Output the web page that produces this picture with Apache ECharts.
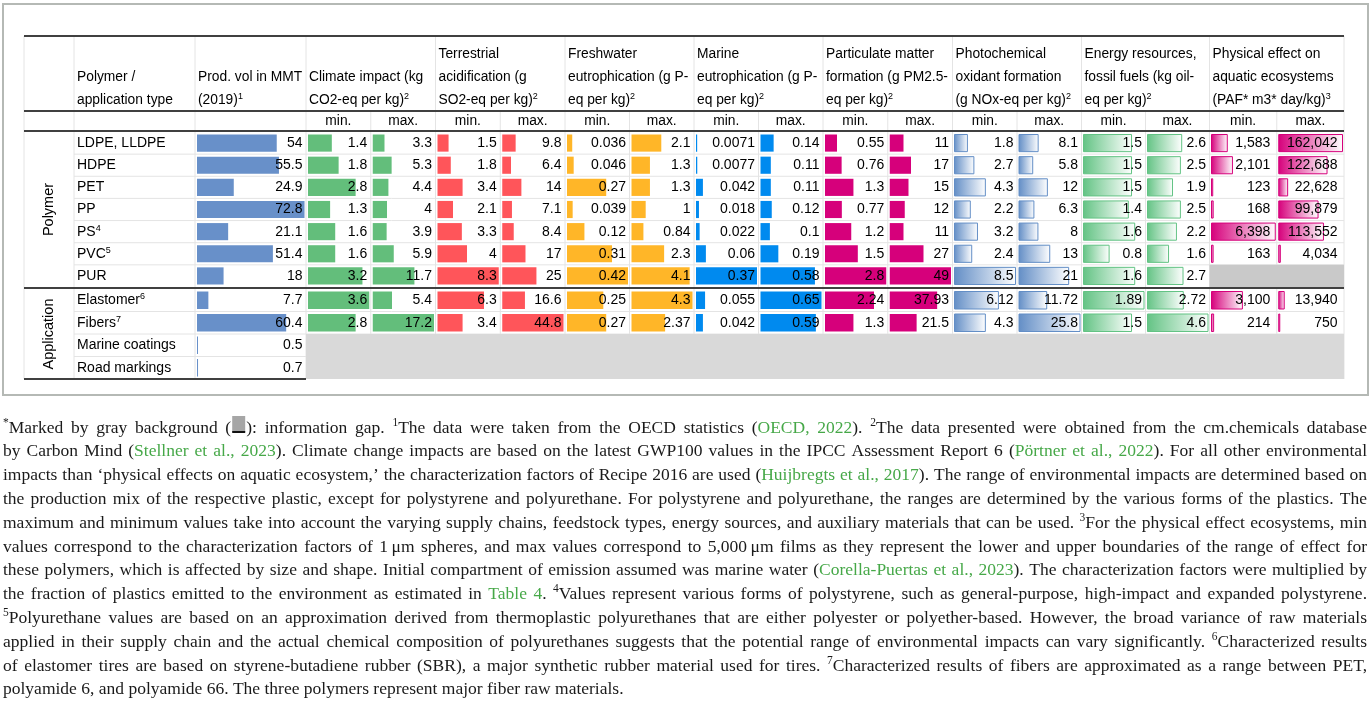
<!DOCTYPE html>
<html><head><meta charset="utf-8">
<script src="https://cdn.jsdelivr.net/npm/echarts@6/dist/echarts.min.js"></script>
<style>html,body{margin:0;padding:0;background:#fff;}#c{width:1372px;height:709px;}</style>
</head><body><div id="c"></div>
<script>
// ---------------- DATA ----------------
const rowNames = ['LDPE, LLDPE','HDPE','PET','PP','PS','PVC','PUR','Elastomer','Fibers','Marine coatings','Road markings'];
const rowSup = ['','','','','4','5','','6','7','',''];
const groupNames = ['Polymer','Application'];
const groupSizes = [7, 4];
const headerText = [
  ['Polymer /','application type'],
  ['Prod. vol in MMT','(2019){s|1}'],
  ['Climate impact (kg','CO2-eq per kg){s|2}'],
  ['Terrestrial','acidification (g','SO2-eq per kg){s|2}'],
  ['Freshwater','eutrophication (g P-','eq per kg){s|2}'],
  ['Marine','eutrophication (g P-','eq per kg){s|2}'],
  ['Particulate matter','formation (g PM2.5-','eq per kg){s|2}'],
  ['Photochemical','oxidant formation','(g NOx-eq per kg){s|2}'],
  ['Energy resources,','fossil fuels (kg oil-','eq per kg){s|2}'],
  ['Physical effect on','aquatic ecosystems','(PAF* m3* day/kg){s|3}']
];
const subLabels = ['min.','max.'];
const prodVol    = [54,55.5,24.9,72.8,21.1,51.4,18,7.7,60.4,0.5,0.7];
const climateMin = [1.4,1.8,2.8,1.3,1.6,1.6,3.2,3.6,2.8,null,null];
const climateMax = [3.3,5.3,4.4,4,3.9,5.9,11.7,5.4,17.2,null,null];
const terrMin    = [1.5,1.8,3.4,2.1,3.3,4,8.3,6.3,3.4,null,null];
const terrMax    = [9.8,6.4,14,7.1,8.4,17,25,16.6,44.8,null,null];
const freshMin   = [0.036,0.046,0.27,0.039,0.12,0.31,0.42,0.25,0.27,null,null];
const freshMax   = [2.1,1.3,1.3,1,0.84,2.3,4.1,4.3,2.37,null,null];
const marineMin  = [0.0071,0.0077,0.042,0.018,0.022,0.06,0.37,0.055,0.042,null,null];
const marineMax  = [0.14,0.11,0.11,0.12,0.1,0.19,0.58,0.65,0.59,null,null];
const pmMin      = [0.55,0.76,1.3,0.77,1.2,1.5,2.8,2.24,1.3,null,null];
const pmMax      = [11,17,15,12,11,27,49,37.93,21.5,null,null];
const photoMin   = [1.8,2.7,4.3,2.2,3.2,2.4,8.5,6.12,4.3,null,null];
const photoMax   = [8.1,5.8,12,6.3,8,13,21,11.72,25.8,null,null];
const energyMin  = [1.5,1.5,1.5,1.4,1.6,0.8,1.6,1.89,1.5,null,null];
const energyMax  = [2.6,2.5,1.9,2.5,2.2,1.6,2.7,2.72,4.6,null,null];
const physMin    = [1583,2101,123,168,6398,163,null,3100,214,null,null];
const physMax    = [162042,122688,22628,99879,113552,4034,null,13940,750,null,null];

const footnoteLines = [
 "^*Marked by gray background (■): information gap. ^1The data were taken from the OECD statistics (§OECD, 2022§). ^2The data presented were obtained from the cm.chemicals database",
 "by Carbon Mind (§Stellner et al., 2023§). Climate change impacts are based on the latest GWP100 values in the IPCC Assessment Report 6 (§Pörtner et al., 2022§). For all other environmental",
 "impacts than ‘physical effects on aquatic ecosystem,’ the characterization factors of Recipe 2016 are used (§Huijbregts et al., 2017§). The range of environmental impacts are determined based on",
 "the production mix of the respective plastic, except for polystyrene and polyurethane. For polystyrene and polyurethane, the ranges are determined by the various forms of the plastics. The",
 "maximum and minimum values take into account the varying supply chains, feedstock types, energy sources, and auxiliary materials that can be used. ^3For the physical effect ecosystems, min",
 "values correspond to the characterization factors of 1\u2009μm spheres, and max values correspond to 5,000\u2009μm films as they represent the lower and upper boundaries of the range of effect for",
 "these polymers, which is affected by size and shape. Initial compartment of emission assumed was marine water (§Corella-Puertas et al., 2023§). The characterization factors were multiplied by",
 "the fraction of plastics emitted to the environment as estimated in §Table 4§. ^4Values represent various forms of polystyrene, such as general-purpose, high-impact and expanded polystyrene.",
 "^5Polyurethane values are based on an approximation derived from thermoplastic polyurethanes that are either polyester or polyether-based. However, the broad variance of raw materials",
 "applied in their supply chain and the actual chemical composition of polyurethanes suggests that the potential range of environmental impacts can vary significantly. ^6Characterized results",
 "of elastomer tires are based on styrene-butadiene rubber (SBR), a major synthetic rubber material used for tires. ^7Characterized results of fibers are approximated as a range between PET,",
 "polyamide 6, and polyamide 66. The three polymers represent major fiber raw materials."
];

// ---------------- STYLE / LAYOUT ----------------
const SANS = '"Liberation Sans", Arial, sans-serif';
const SERIF = '"Liberation Serif", "Times New Roman", serif';
const columnsData = [prodVol, climateMin, climateMax, terrMin, terrMax, freshMin, freshMax,
  marineMin, marineMax, pmMin, pmMax, photoMin, photoMax, energyMin, energyMax, physMin, physMax];
const groupStyle = [
  {color:'#6890C9', grad:false},
  {color:'#63BE7B', grad:false},
  {color:'#FF555A', grad:false},
  {color:'#FFB628', grad:false},
  {color:'#008AEF', grad:false},
  {color:'#D6007B', grad:false},
  {color:'#638EC6', grad:true},
  {color:'#63C384', grad:true},
  {color:'#D6007B', grad:true}
];
const X_GROUP = 24, X_NAME = 74, X_PROD = 195, X_RIGHT = 1344;
const mainX = [306, 435.5, 565, 694, 823, 952.5, 1081.5, 1209.5, 1344];
const Y_TOP = 36, Y_HEAD = 111, Y_SUB = 131, Y_SEP = 288, Y_BOT = 379;
const sections = [{start:0, count:7, top:132, bottom:287}, {start:7, count:4, top:289, bottom:379}];

// column boxes
const cols = [];
cols.push({x0:X_PROD, x1:mainX[0], style:groupStyle[0], pad:3.5});
for (let k = 0; k < 8; k++) {
  const a = mainX[k], b = mainX[k+1], m = (a+b)/2;
  const pad = k === 7 ? 6.5 : 3.5;
  cols.push({x0:a, x1:m, style:groupStyle[k+1], pad});
  cols.push({x0:m, x1:b, style:groupStyle[k+1], pad});
}
cols.forEach((c, i) => {
  c.data = columnsData[i];
  c.max = Math.max(...c.data.filter(v => v != null));
});

const supMap = {};
rowNames.forEach((n, i) => { if (rowSup[i]) supMap[n] = rowSup[i]; });

const fmt = v => v.toLocaleString('en-US', {maximumFractionDigits: 4});

const mctx = document.createElement('canvas').getContext('2d');
function textW(t, size, fam) { mctx.font = size + 'px ' + fam; return mctx.measureText(t).width; }

// ---------------- BUILD OPTION ----------------
const grids = [], xAxes = [], yAxes = [], series = [];
cols.forEach((c, ci) => {
  sections.forEach((s, si) => {
    const g = grids.length;
    grids.push({left: c.x0 + 2, top: s.top, width: (c.x1 - c.x0) - 3.5, height: s.bottom - s.top, containLabel:false});
    xAxes.push({type:'value', gridIndex:g, min:0, max:c.max, show:false});
    yAxes.push({
      type:'category', gridIndex:g, inverse:true,
      data: rowNames.slice(s.start, s.start + s.count),
      axisLine:{show:false}, axisTick:{show:false}, splitLine:{show:false},
      axisLabel: ci === 0 ? {
        show:true, interval:0, align:'left', margin: (c.x0 + 2) - (X_NAME + 3),
        fontSize:14, fontFamily:SANS, color:'#000', lineHeight:16,
        formatter: v => v + (supMap[v] ? '{s|' + supMap[v] + '}' : ''),
        rich:{s:{fontSize:9, fontFamily:SANS, color:'#000', lineHeight:9, verticalAlign:'top'}}
      } : {show:false}
    });
    const data = [];
    for (let r = 0; r < s.count; r++) {
      const v = c.data[s.start + r];
      if (v != null) data.push([v, r]);
    }
    const st = c.style, colMax = c.max, pad = c.pad;
    series.push({
      type:'custom', xAxisIndex:g, yAxisIndex:g, z:3, silent:true,
      encode:{x:0, y:1},
      data,
      renderItem: function (params, api) {
        const v = api.value(0), r = api.value(1);
        const p0 = api.coord([0, r]);
        const p1 = api.coord([v, r]);
        const pm = api.coord([colMax, r]);
        const bh = api.size([0, 1])[1];
        const w = Math.max(p1[0] - p0[0], 1);
        const fill = st.grad
          ? new echarts.graphic.LinearGradient(0, 0, 1, 0, [{offset:0, color:st.color}, {offset:1, color:'#ffffff'}])
          : st.color;
        return {type:'group', children:[
          {type:'rect', shape:{x:p0[0], y:p0[1] - bh/2 + 2.5, width:w, height:bh - 5},
           style:{fill, stroke: st.grad ? st.color : null, lineWidth: st.grad ? 1 : 0}},
          {type:'text', style:{text: fmt(v), x: pm[0] + 1.5 - pad, y: p0[1],
            align:'right', verticalAlign:'middle', textAlign:'right', textVerticalAlign:'middle',
            fontSize:14, fontFamily:SANS, fill:'#000'}}
        ]};
      }
    });
  });
});

// ---------------- GRAPHIC (table structure + texts) ----------------
const G = [];
const line = (x1, y1, x2, y2, color, w, z) => G.push({type:'line', shape:{x1, y1, x2, y2}, style:{stroke:color, lineWidth:w}, z, silent:true});
const LIGHT = '#E4E4E4', DARK = '#404040';

// frame
G.push({type:'rect', shape:{x:3, y:4, width:1365, height:391}, style:{fill:null, stroke:'#B5B9B5', lineWidth:2}, z:0, silent:true});

// light horizontal row lines
sections.forEach(s => {
  const h = (s.bottom - s.top) / s.count;
  for (let r = 1; r < s.count; r++) line(X_NAME, s.top + r*h, X_RIGHT, s.top + r*h, LIGHT, 1, 0);
});
// light vertical lines
[X_GROUP, X_NAME, X_PROD].concat(mainX).forEach(x => line(x, Y_TOP, x, Y_BOT, LIGHT, 1, 0));
for (let k = 0; k < 8; k++) { const m = (mainX[k] + mainX[k+1]) / 2; line(m, Y_HEAD, m, Y_BOT, LIGHT, 1, 0); }

// gray info-gap areas
const app = sections[1], appH = (app.bottom - app.top) / app.count;
G.push({type:'rect', shape:{x:mainX[0], y:app.top + 2*appH, width:X_RIGHT - mainX[0], height:2*appH}, style:{fill:'#D9D9D9'}, z:1, silent:true});
const pol = sections[0], polH = (pol.bottom - pol.top) / pol.count;
G.push({type:'rect', shape:{x:mainX[7], y:pol.top + 6*polH, width:X_RIGHT - mainX[7], height:polH}, style:{fill:'#C9C9C9'}, z:1, silent:true});

// thick rules
line(X_GROUP, Y_TOP, X_RIGHT, Y_TOP, DARK, 2, 5);
line(X_GROUP, Y_HEAD, X_RIGHT, Y_HEAD, DARK, 2, 5);
line(X_GROUP, Y_SUB, X_RIGHT, Y_SUB, DARK, 2, 5);
line(X_GROUP, Y_SEP, X_RIGHT, Y_SEP, DARK, 2, 5);
line(X_GROUP, Y_BOT, mainX[0], Y_BOT, DARK, 2, 5);

// header texts
const headerX = [X_NAME, X_PROD].concat(mainX.slice(0, 8));
const headerRight = [X_PROD, mainX[0]].concat(mainX.slice(1));
const lineYs = [54, 77, 100];
headerText.forEach((lines, i) => {
  const avail = headerRight[i] - headerX[i] - 4;
  lines.forEach((t, j) => {
    const plain = t.replace(/\{s\|(.*?)\}/g, '$1');
    let fs = 13.8;
    const wv = textW(plain, fs, SANS);
    if (wv > avail) fs = Math.max(12, fs * avail / wv);
    const y = lineYs[3 - lines.length + j];
    G.push({type:'text', z:6, silent:true, style:{
      text:t, x:headerX[i] + 3, y, align:'left', verticalAlign:'middle', textAlign:'left', textVerticalAlign:'middle',
      fontSize:fs, fontFamily:SANS, fill:'#000', lineHeight:16,
      rich:{s:{fontSize:9, fontFamily:SANS, fill:'#000', lineHeight:9, verticalAlign:'top'}}
    }});
  });
});
// min / max sub labels
for (let k = 0; k < 8; k++) {
  const a = mainX[k], b = mainX[k+1], m = (a+b)/2;
  [[a, m], [m, b]].forEach((p, j) => G.push({type:'text', z:6, silent:true, style:{
    text: subLabels[j], x:(p[0]+p[1])/2, y:121, align:'center', verticalAlign:'middle', textAlign:'center', textVerticalAlign:'middle',
    fontSize:13.8, fontFamily:SANS, fill:'#000'}}));
}
// group labels (rotated)
groupNames.forEach((gname, i) => {
  const s = sections[i];
  G.push({type:'text', z:6, silent:true, x:(X_GROUP + X_NAME)/2, y:(s.top + s.bottom)/2, rotation:Math.PI/2,
    style:{text:gname, x:0, y:0, align:'center', verticalAlign:'middle', textAlign:'center', textVerticalAlign:'middle',
      fontSize:14.5, fontFamily:SANS, fill:'#000'}});
});

// ---------------- FOOTNOTE (justified) ----------------
const FN_SIZE = 17.5, SUP_SIZE = 11.5, FN_LEFT = 3, FN_RIGHT = 1367, FN_Y0 = 428, FN_DY = 23.8;
const GREEN = '#46A848';
function parseLine(str) {
  let green = false; const words = []; let cur = []; let buf = '';
  const flush = () => { if (buf) { cur.push({t:buf, g:green}); buf = ''; } };
  for (let i = 0; i < str.length; i++) {
    const ch = str[i];
    if (ch === ' ') { flush(); if (cur.length) words.push(cur); cur = []; }
    else if (ch === '§') { flush(); green = !green; }
    else if (ch === '^') { flush(); cur.push({t:str[i+1], g:green, sup:true}); i++; }
    else if (ch === '■') { flush(); cur.push({box:true}); }
    else buf += ch;
  }
  flush(); if (cur.length) words.push(cur);
  return words;
}
footnoteLines.forEach((str, li) => {
  const words = parseLine(str);
  const last = li === footnoteLines.length - 1;
  let fs = FN_SIZE, ss = SUP_SIZE;
  const measure = () => {
    words.forEach(w => { w.width = 0; w.forEach(p => {
      p.w = p.box ? 15 : textW(p.t, p.sup ? ss : fs, SERIF); w.width += p.w; }); });
    return words.reduce((a, w) => a + w.width, 0);
  };
  let total = measure();
  const spaceW = textW(' ', fs, SERIF);
  const avail = FN_RIGHT - FN_LEFT;
  if (total + spaceW * 0.8 * (words.length - 1) > avail) {
    const sc = avail / (total + spaceW * 0.8 * (words.length - 1)) * 0.995;
    fs *= sc; ss *= sc; total = measure();
  }
  const gap = last ? textW(' ', fs, SERIF) : (avail - total) / (words.length - 1);
  const y = FN_Y0 + li * FN_DY;
  let x = FN_LEFT;
  words.forEach(w => {
    w.forEach(p => {
      if (p.box) {
        G.push({type:'rect', z:6, silent:true, shape:{x:x + 1, y:y - 12, width:p.w - 2, height:16}, style:{fill:'#A6A6A6'}});
        G.push({type:'rect', z:6, silent:true, shape:{x:x + 1, y:y + 3, width:p.w - 2, height:2}, style:{fill:'#111'}});
      } else {
        G.push({type:'text', z:6, silent:true, style:{
          text:p.t, x, y: p.sup ? y - 5.5 : y, align:'left', verticalAlign:'middle', textAlign:'left', textVerticalAlign:'middle',
          fontSize: p.sup ? ss : fs, fontFamily:SERIF, fill: p.g ? GREEN : '#1a1a1a'}});
      }
      x += p.w;
    });
    x += gap;
  });
});

const chart = echarts.init(document.getElementById('c'), null, {renderer:'canvas', width:1372, height:709});
chart.setOption({
  animation:false,
  backgroundColor:'#ffffff',
  grid:grids, xAxis:xAxes, yAxis:yAxes, series,
  graphic:{elements:G}
});
</script>
</body></html>
